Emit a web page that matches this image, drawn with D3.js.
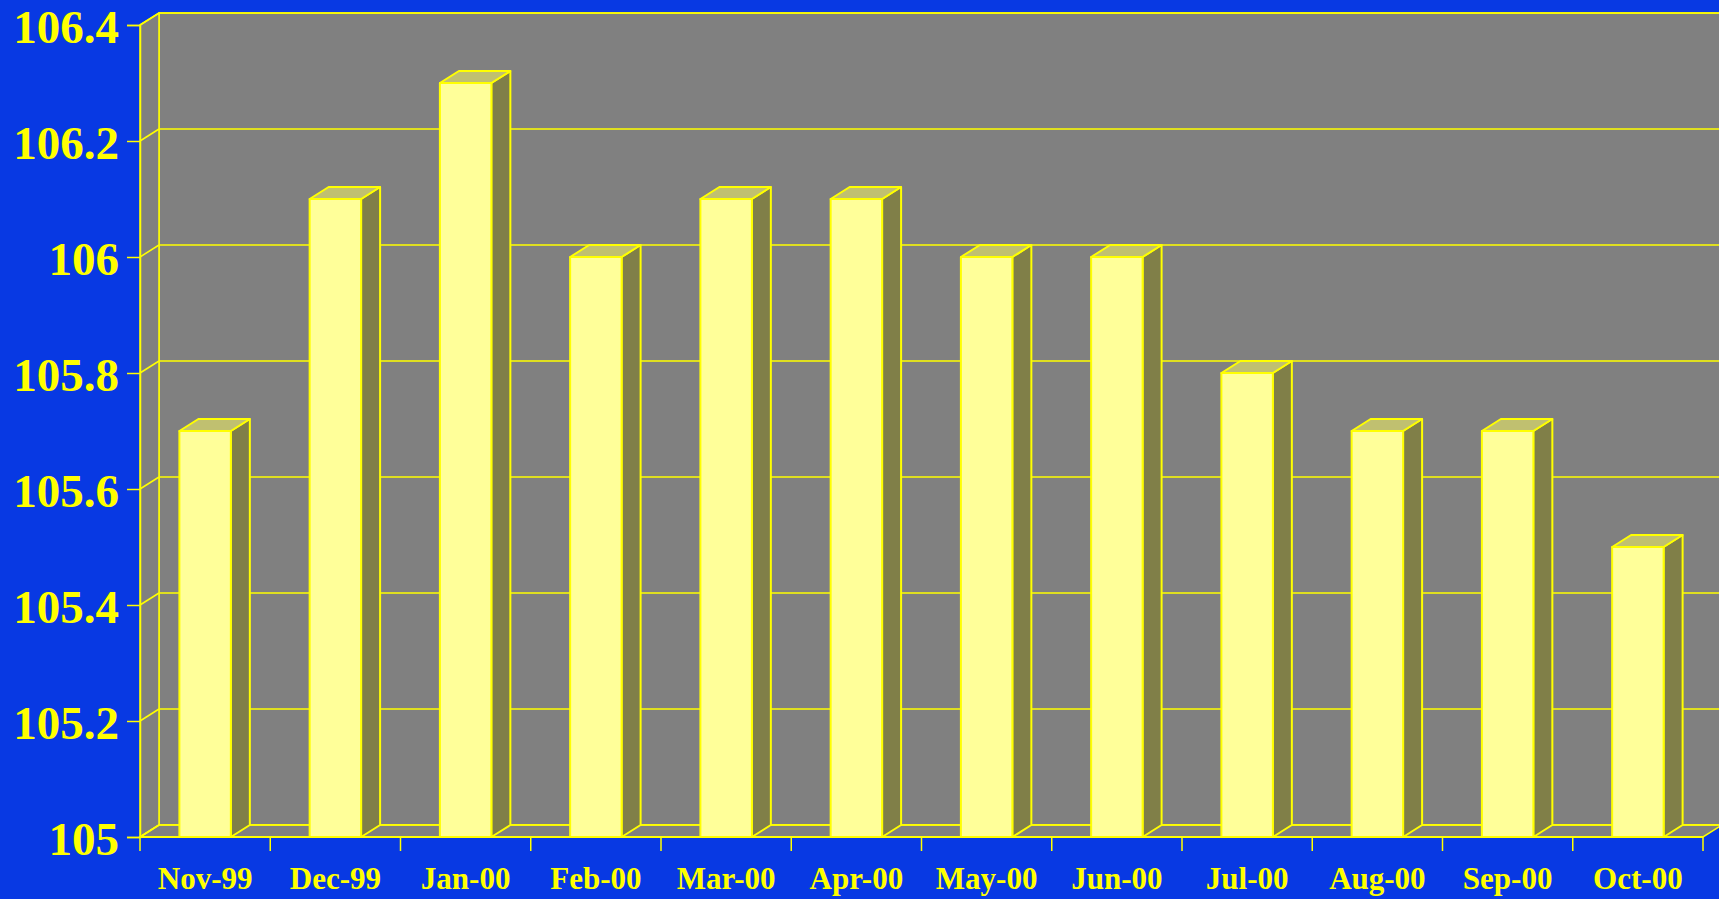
<!DOCTYPE html>
<html>
<head>
<meta charset="utf-8">
<script src="https://cdn.jsdelivr.net/npm/d3@7"></script>
<style>
  body { margin: 0; background: #0839e3; overflow: hidden; }
  text { font-family: "Liberation Serif", "Times New Roman", serif; font-weight: bold; fill: #ffff00; }
</style>
</head>
<body>
<script>
// chart data
var months = ['Nov-99', 'Dec-99', 'Jan-00', 'Feb-00', 'Mar-00', 'Apr-00',
              'May-00', 'Jun-00', 'Jul-00', 'Aug-00', 'Sep-00', 'Oct-00'];
var values = [105.7, 106.1, 106.3, 106.0, 106.1, 106.1,
              106.0, 106.0, 105.8, 105.7, 105.7, 105.5];
var yTicks = [105, 105.2, 105.4, 105.6, 105.8, 106, 106.2, 106.4];

var width = 1719;
var height = 899;
// plot edges (front plane)
var pLeft = 140, pRight = 1703, pBottom = 837, pTop = 25;
var dx = 19, dy = 12;   // 3d depth offset
var yellow = '#ffff00';

var svg = d3.select('body').append('svg')
  .attr('width', width)
  .attr('height', height);

var x = d3.scaleBand().domain(months).range([pLeft, pRight]).padding(0);
var y = d3.scaleLinear().domain([105, 106.4]).range([pBottom, pTop]);

// back wall
svg.append('rect')
  .attr('x', pLeft + dx).attr('y', pTop - dy)
  .attr('width', width).attr('height', pBottom - pTop)
  .attr('fill', '#808080').attr('stroke', yellow).attr('stroke-width', 1.5);

// left wall
svg.append('polygon')
  .attr('points', [[pLeft, pTop], [pLeft + dx, pTop - dy], [pLeft + dx, pBottom - dy], [pLeft, pBottom]].join(' '))
  .attr('fill', '#808080').attr('stroke', yellow).attr('stroke-width', 1.5);

// floor
svg.append('polygon')
  .attr('points', [[pLeft, pBottom], [pLeft + dx, pBottom - dy], [pRight + dx, pBottom - dy], [pRight, pBottom]].join(' '))
  .attr('fill', '#808080').attr('stroke', yellow).attr('stroke-width', 1.5);

// grid lines: back wall + left wall diagonals
var grid = svg.append('g').attr('stroke', yellow).attr('stroke-width', 1.5).attr('fill', 'none');
grid.selectAll('line.back').data(yTicks).enter().append('line')
  .attr('class', 'back')
  .attr('x1', pLeft + dx).attr('x2', width)
  .attr('y1', function (d) { return y(d) - dy; })
  .attr('y2', function (d) { return y(d) - dy; });
grid.selectAll('line.side').data(yTicks).enter().append('line')
  .attr('class', 'side')
  .attr('x1', pLeft).attr('x2', pLeft + dx)
  .attr('y1', function (d) { return y(d); })
  .attr('y2', function (d) { return y(d) - dy; });

// y axis
var yAxis = svg.append('g')
  .attr('transform', 'translate(' + pLeft + ',0)')
  .call(d3.axisLeft(y).tickValues(yTicks).tickSize(13).tickPadding(8).tickFormat(d3.format('')));
yAxis.select('.domain').attr('stroke', yellow).attr('stroke-width', 1.5);
yAxis.selectAll('.tick line').attr('stroke', yellow).attr('stroke-width', 1.5);
yAxis.selectAll('.tick text')
  .attr('fill', yellow)
  .attr('dy', '0.38em')
  .style('font-size', '47px')
  .style('font-family', '"Liberation Serif", serif')
  .style('font-weight', 'bold');

// x axis
var xAxis = svg.append('g')
  .attr('transform', 'translate(0,' + pBottom + ')')
  .call(d3.axisBottom(x).tickSize(0).tickPadding(30));
xAxis.select('.domain').remove();
xAxis.selectAll('.tick text')
  .attr('fill', yellow)
  .style('font-size', '31px')
  .style('font-family', '"Liberation Serif", serif')
  .style('font-weight', 'bold');
svg.append('line')
  .attr('x1', pLeft).attr('x2', pRight)
  .attr('y1', pBottom).attr('y2', pBottom)
  .attr('stroke', yellow).attr('stroke-width', 2);
svg.append('g').selectAll('line').data(months.concat(['end'])).enter().append('line')
  .attr('x1', function (d, i) { return pLeft + i * x.step(); })
  .attr('x2', function (d, i) { return pLeft + i * x.step(); })
  .attr('y1', pBottom).attr('y2', pBottom + 14)
  .attr('stroke', yellow).attr('stroke-width', 1.5);

// 3d bars
var bw = x.bandwidth() * 0.395;
var bars = svg.append('g').selectAll('g').data(values).enter().append('g')
  .attr('stroke', yellow).attr('stroke-width', 2).attr('stroke-linejoin', 'round');

bars.append('polygon')
  .attr('fill', '#807f48')
  .attr('points', function (d, i) {
    var x0 = x(months[i]) + (x.bandwidth() - bw) / 2 + bw;
    return [[x0, y(d)], [x0 + dx, y(d) - dy], [x0 + dx, pBottom - dy], [x0, pBottom]].join(' ');
  });
bars.append('polygon')
  .attr('fill', '#c0c070')
  .attr('points', function (d, i) {
    var x0 = x(months[i]) + (x.bandwidth() - bw) / 2;
    return [[x0, y(d)], [x0 + dx, y(d) - dy], [x0 + bw + dx, y(d) - dy], [x0 + bw, y(d)]].join(' ');
  });
bars.append('rect')
  .attr('fill', '#ffff99')
  .attr('x', function (d, i) { return x(months[i]) + (x.bandwidth() - bw) / 2; })
  .attr('y', function (d) { return y(d); })
  .attr('width', bw)
  .attr('height', function (d) { return pBottom - y(d); });
</script>
</body>
</html>
